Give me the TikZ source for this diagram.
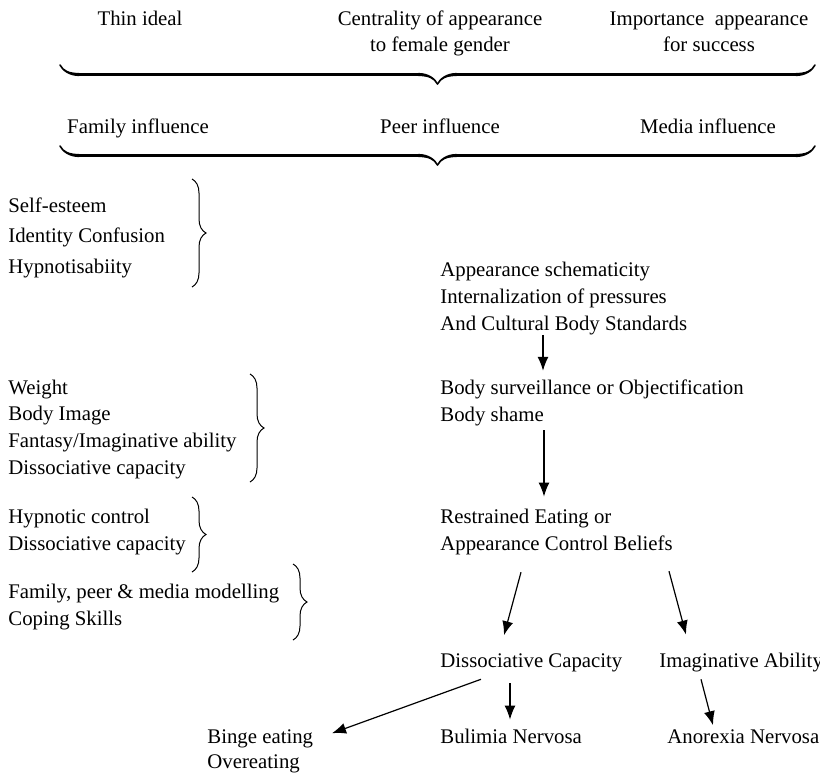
\documentclass[tikz,border=0pt]{standalone}
\usepackage{fontspec}
\setmainfont{Liberation Serif}
\usepackage{tikz}
\usetikzlibrary{arrows.meta,decorations.pathreplacing,calligraphy}
\tikzstyle{head} = [align=center, inner sep=0pt, anchor=base,
    font=\fontsize{10.4}{13}\selectfont]
\tikzstyle{factor} = [align=left, inner sep=0pt, anchor=base west,
    font=\fontsize{10.4}{13.3}\selectfont]
\tikzstyle{arr} = [-{Latex[length=7pt,width=5.5pt]}, line width=0.6pt]
\tikzstyle{bigbrace} = [decorate, decoration={calligraphic brace, amplitude=9.5pt},
    line width=1.6pt]
\tikzstyle{sidebrace} = [decorate, decoration={brace, amplitude=7pt}, line width=0.5pt]

\begin{document}
\begin{tikzpicture}[x=0.5pt, y=-0.5pt]
  \useasboundingbox (0,0) rectangle (820,777);
  \node [head] (thin) at (140,25) {Thin ideal};
  \node [head] (central) at (440,51) {Centrality of appearance\\to female gender};
  \node [head] (success) at (709,51) {Importance\ \ appearance\\for success};
  \draw [bigbrace] (815,65) -- (60,65);
  \node [head] (family) at (138,133) {Family influence};
  \node [head] (peer) at (440,133) {Peer influence};
  \node [head] (media) at (708,133) {Media influence};
  \draw [bigbrace] (815,146) -- (60,146);

  \node [factor, font=\fontsize{10.4}{15.25}\selectfont] (self) at (8,273)
  {Self-esteem\\Identity Confusion\\Hypnotisabiity};
  \node [factor] (weight) at (8,474)
  {Weight\\Body Image\\Fantasy/Imaginative ability\\Dissociative capacity};
  \node [factor] (hypctl) at (8,550) {Hypnotic control\\Dissociative capacity};
  \node [factor] (model) at (8,625) {Family, peer \& media modelling\\Coping Skills};
  \draw [sidebrace] (192,179) -- (192,287);
  \draw [sidebrace] (250,374) -- (250,482);
  \draw [sidebrace] (192,497) -- (192,572);
  \draw [sidebrace] (293,564) -- (293,640);

  \node [factor, font=\fontsize{10.4}{13.5}\selectfont] (schema) at (440,330)
  {Appearance schematicity\\Internalization of pressures\\And Cultural Body Standards};
  \node [factor] (body) at (440,421) {Body surveillance or Objectification\\Body shame};
  \node [factor, font=\fontsize{10.4}{13.5}\selectfont] (restr) at (440,550)
  {Restrained Eating or\\Appearance Control Beliefs};
  \node [factor] (dissoc) at (440,667) {Dissociative Capacity};
  \node [factor] (imag) at (659,667) {Imaginative Ability};
  \node [factor] (bul) at (440,743) {Bulimia Nervosa};
  \node [factor] (anor) at (667,743) {Anorexia Nervosa};
  \node [factor, font=\fontsize{10.4}{12.5}\selectfont] (binge) at (207,768)
  {Binge eating\\Overeating};

  \draw [arr] ([xshift=51.5pt]schema.south west) -- ([xshift=51.5pt,yshift=4.3pt]body.north west);
  \draw [arr] ([xshift=52pt,yshift=-2.2pt]body.south west) -- ([xshift=52pt,yshift=5.8pt]restr.north west);
  \draw [arr] ([xshift=40.5pt,yshift=-8.7pt]restr.south west) -- ([xshift=32pt,yshift=8.8pt]dissoc.north west);
  \draw [arr] ([xshift=114.5pt,yshift=-8.2pt]restr.south west) -- ([xshift=13.5pt,yshift=8.8pt]imag.north west);
  \draw [arr] ([xshift=20.5pt,yshift=-3.7pt]dissoc.south west) -- ([xshift=62.5pt,yshift=-2.2pt]binge.north west);
  \draw [arr] ([xshift=35pt,yshift=-5.7pt]dissoc.south west) -- ([xshift=35pt,yshift=4.3pt]bul.north west);
  \draw [arr] ([xshift=21pt,yshift=-3.7pt]imag.south west) -- ([xshift=23pt,yshift=1.8pt]anor.north west);
\end{tikzpicture}
\end{document}
